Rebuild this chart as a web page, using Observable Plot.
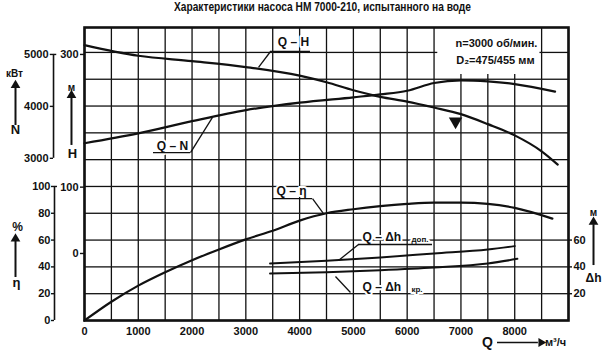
<!DOCTYPE html>
<html><head><meta charset="utf-8">
<script src="https://cdn.jsdelivr.net/npm/d3@7"></script>
<script src="https://cdn.jsdelivr.net/npm/@observablehq/plot@0.6"></script>
<style>
body{margin:0;background:#fff;}
#title{height:20px;line-height:20px;font:bold 12px "Liberation Sans",Arial,sans-serif;color:#111;white-space:nowrap;padding-left:174px;}
#title span{display:inline-block;transform-origin:0 50%;}
#chart svg{display:block;}
</style></head><body>
<div id="title"><span id="ttl"></span></div>
<div id="chart"></div>
<script>
// ---------------- data ----------------
const title = "Характеристики насоса НМ 7000-210, испытанного на воде";
const qH    = [0,1000,2000,3000,4000,4500,5000,5500,6000,6500,7000,7500,8000,8500,8800];
const hVals = [314,298,290,281,268,258,246,236,229,220,210,195,178,154,134];
const qN    = [0,1000,2000,3000,4000,5000,5500,6000,6500,7000,7500,8000,8750];
const nVals = [3290,3480,3715,3928,4071,4175,4230,4300,4450,4500,4480,4430,4285];
const qEta  = [0,500,1000,1500,2000,2500,3000,3500,4000,4500,5000,5500,6000,6500,7000,7500,8000,8700];
const etaVals = [0,14,26,36,45,53,60.5,67,74.5,80,83,85.3,87,88,88,87,84,76];
const qDhAdm = [3450,4500,5500,6500,7500,8000];
const dhAdm  = [42.5,44.5,47,50,53,55.5];
const qDhCr  = [3450,4500,5500,6500,7500,8050];
const dhCr   = [35,36,37.5,39.5,42.5,46];
const workPoint = [{q: 6900, h: 199}];
const qTicks = [0,1000,2000,3000,4000,5000,6000,7000,8000];
const nTicks = [3000,4000,5000];
const hTicks = [0,100,300];
const etaTicks = [0,20,40,60,80,100];
const dhTicks = [20,40,60];
const speedText = "n=3000 об/мин.";
const diamText = "D₂=475/455 мм";

// ---------------- helpers ----------------
// common y scale is in η (%) units; H and N are mapped onto it
const etaOfH = h => 50 + h * 148.5 / 300;
const etaOfN = n => 121 + (n - 3000) * 77.5 / 2000;
const c = v => () => v;
const id = d => d;
const str = d => String(d);
const series = (qs, vs, f) => qs.map((q, i) => ({q, v: f(vs[i])}));

const ink = "#111";
const bold = {fontWeight: "bold", fontSize: 11, fill: ink};
const halo = {stroke: "white", strokeWidth: 4, paintOrder: "stroke"};
const colN = -576, colEta = -558;
const yTop = 218.6;
// blank box behind the speed / diameter note
const box = {q1: 6560, q2: 8460, y1: 184};

// grid as short cell-edge segments
const qStops = d3.range(0, 9001, 500);
const yStops = d3.range(0, 219, 20).concat([yTop]);
const gridSeg = [];
for (const q of qStops) {
  for (let i = 0; i < yStops.length - 1; i++) {
    let y0 = yStops[i], y1 = yStops[i + 1];
    if (q > box.q1 && q < box.q2) { if (y0 >= box.y1) continue; y1 = Math.min(y1, box.y1); }
    gridSeg.push({x1: q, x2: q, y1: y0, y2: y1});
  }
}
for (const y of d3.range(0, 219, 20)) {
  for (let i = 0; i < qStops.length - 1; i++) {
    let x0 = qStops[i], x1 = qStops[i + 1];
    if (y > box.y1) {
      if (x0 >= box.q1 && x1 <= box.q2) continue;
      if (x0 < box.q1 && x1 > box.q1) x1 = box.q1;
      else if (x0 < box.q2 && x1 > box.q2) x0 = box.q2;
    }
    gridSeg.push({x1: x0, x2: x1, y1: y, y2: y});
  }
}

const arrowUp = (x, yFrom, yTo) => [
  Plot.ruleX([0], {x: c(x), y1: c(yFrom), y2: c(yTo - 2), stroke: ink, strokeWidth: 2}),
  Plot.dot([0], {x: c(x), y: c(yTo), symbol: "triangle", r: 3.6, fill: ink, stroke: "none"})
];

const marks = [
  // grid
  Plot.link(gridSeg, {x1: "x1", x2: "x2", y1: "y1", y2: "y2", stroke: ink, strokeWidth: 1.3}),
  Plot.frame({stroke: ink, strokeWidth: 2.6}),

  // curves
  Plot.line(series(qH, hVals, etaOfH), {x: "q", y: "v", curve: "monotone-x", stroke: ink, strokeWidth: 2.2}),
  Plot.line(series(qN, nVals, etaOfN), {x: "q", y: "v", curve: "monotone-x", stroke: ink, strokeWidth: 2.2}),
  Plot.line(series(qEta, etaVals, id), {x: "q", y: "v", curve: "monotone-x", stroke: ink, strokeWidth: 2.2}),
  Plot.line(series(qDhAdm, dhAdm, id), {x: "q", y: "v", curve: "monotone-x", stroke: ink, strokeWidth: 2}),
  Plot.line(series(qDhCr, dhCr, id), {x: "q", y: "v", curve: "monotone-x", stroke: ink, strokeWidth: 2}),
  Plot.dot(workPoint, {x: "q", y: d => etaOfH(d.h), symbol: "triangle", r: 5, rotate: 180, fill: ink, stroke: "none"}),

  // curve labels + leaders
  Plot.text(["Q – H"], {x: c(3886), y: c(207.4), text: id, ...bold, fontSize: 12, ...halo}),
  Plot.ruleY([200.7], {y: id, x1: c(3459), x2: c(4202), stroke: ink, strokeWidth: 1.3}),
  Plot.link([0], {x1: c(3459), y1: c(200.7), x2: c(3236), y2: c(188.8), stroke: ink, strokeWidth: 1.3}),
  Plot.text(["Q – N"], {x: c(1636), y: c(129.8), text: id, ...bold, fontSize: 12, ...halo}),
  Plot.ruleY([125.3], {y: id, x1: c(1283), x2: c(1971), stroke: ink, strokeWidth: 1.3}),
  Plot.link([0], {x1: c(1971), y1: c(125.3), x2: c(2380), y2: c(151.5), stroke: ink, strokeWidth: 1.3}),
  Plot.text(["Q – η"], {x: c(3849), y: c(96.2), text: id, ...bold, fontSize: 12, ...halo}),
  Plot.ruleY([91], {y: id, x1: c(3496), x2: c(4240), stroke: ink, strokeWidth: 1.3}),
  Plot.link([0], {x1: c(4240), y1: c(91), x2: c(4444), y2: c(79.8), stroke: ink, strokeWidth: 1.3}),
  Plot.text(["Q – Δh"], {x: c(5170), y: c(61.9), text: id, textAnchor: "start", ...bold, fontSize: 12, ...halo}),
  Plot.text(["доп."], {x: c(6080), y: c(60.6), text: id, textAnchor: "start", ...bold, fontSize: 8, ...halo}),
  Plot.ruleY([56.7], {y: id, x1: c(5095), x2: c(6471), stroke: ink, strokeWidth: 1.3}),
  Plot.link([0], {x1: c(5095), y1: c(56.7), x2: c(4723), y2: c(44.8), stroke: ink, strokeWidth: 1.3}),
  Plot.text(["Q – Δh"], {x: c(5170), y: c(24.6), text: id, textAnchor: "start", ...bold, fontSize: 12, ...halo}),
  Plot.text(["кр."], {x: c(6080), y: c(23.2), text: id, textAnchor: "start", ...bold, fontSize: 8, ...halo}),
  Plot.link([0], {x1: c(4667), y1: c(32.8), x2: c(4946), y2: c(20.9), stroke: ink, strokeWidth: 1.3}),

  // box text
  Plot.text([speedText], {x: c(7661), y: c(206.7), text: id, fontSize: 11, fontWeight: "bold", fill: ink}),
  Plot.text([diamText], {x: c(7640), y: c(194), text: id, fontSize: 11, fontWeight: "bold", fill: ink}),

  // x axis
  Plot.text(qTicks, {x: id, y: c(0), dy: 11, text: str, ...bold}),
  Plot.text(["Q"], {x: c(7494), y: c(-16.4), text: id, ...bold, fontSize: 14}),
  Plot.ruleY([-16.4], {y: id, x1: c(7680), x2: c(8440), stroke: ink, strokeWidth: 1.6}),
  Plot.dot([0], {x: c(8490), y: c(-16.4), symbol: "triangle", r: 3.4, rotate: 90, fill: ink, stroke: "none"}),
  Plot.text(["м³/ч"], {x: c(8760), y: c(-16.4), text: id, ...bold, fontSize: 11}),

  // N axis
  Plot.ruleX([0], {x: c(colN), y1: c(etaOfN(3000)), y2: c(etaOfN(5000)), stroke: ink, strokeWidth: 1.6}),
  Plot.ruleY(nTicks, {y: etaOfN, x1: c(colN - 60), x2: c(colN), stroke: ink, strokeWidth: 1.4}),
  Plot.ruleY([5000], {y: etaOfN, x1: c(colN), x2: c(colN + 60), stroke: ink, strokeWidth: 1.4}),
  Plot.text(nTicks, {x: c(colN), y: etaOfN, dx: -5, textAnchor: "end", text: str, ...bold}),
  Plot.text(["кВт"], {x: c(-1302), y: c(184.3), text: id, ...bold, fontSize: 10}),
  ...arrowUp(-1283, 145.5, 175.5),
  Plot.text(["N"], {x: c(-1283), y: c(142), text: id, ...bold, fontSize: 13}),

  // H axis (on left frame)
  Plot.ruleY(hTicks, {y: etaOfH, x1: c(-75), x2: c(0), stroke: ink, strokeWidth: 1.4}),
  Plot.text(hTicks, {x: c(0), y: etaOfH, dx: -6, textAnchor: "end", text: str, ...bold}),
  Plot.text(["м"], {x: c(-242), y: c(173.8), text: id, ...bold, fontSize: 10}),
  ...arrowUp(-242, 130.6, 168),
  Plot.text(["H"], {x: c(-223), y: c(124.6), text: id, ...bold, fontSize: 13}),

  // η axis
  Plot.ruleX([0], {x: c(colEta), y1: c(0), y2: c(100), stroke: ink, strokeWidth: 1.6}),
  Plot.ruleY(etaTicks, {y: id, x1: c(colEta - 56), x2: c(colEta), stroke: ink, strokeWidth: 1.4}),
  Plot.ruleY([100], {y: id, x1: c(colEta), x2: c(colEta + 56), stroke: ink, strokeWidth: 1.4}),
  Plot.text(etaTicks, {x: c(colEta), y: id, dx: -4, textAnchor: "end", text: str, ...bold}),
  Plot.text(["%"], {x: c(-1246), y: c(69.4), text: id, ...bold, fontSize: 12}),
  ...arrowUp(-1283, 32.1, 61),
  Plot.text(["η"], {x: c(-1264), y: c(28.4), text: id, ...bold, fontSize: 13}),

  // Δh axis (on right frame)
  Plot.ruleY(dhTicks, {y: id, x1: c(9000), x2: c(9075), stroke: ink, strokeWidth: 1.4}),
  Plot.text(dhTicks, {x: c(9000), y: id, dx: 5, textAnchor: "start", text: str, ...bold}),
  Plot.text(["м"], {x: c(9465), y: c(80.6), text: id, ...bold, fontSize: 10}),
  ...arrowUp(9465, 41, 73.5),
  Plot.text(["Δh"], {x: c(9465), y: c(31.3), text: id, ...bold, fontSize: 12})
];

const svg = Plot.plot({
  width: 603,
  height: 333,
  marginLeft: 84,
  marginRight: 35,
  marginTop: 7,
  marginBottom: 33,
  x: {domain: [0, 9000], axis: null},
  y: {domain: [0, yTop], axis: null},
  style: {fontFamily: "'Liberation Sans', Arial, sans-serif", background: "white", color: ink, overflow: "visible"},
  marks
});
document.getElementById("chart").appendChild(svg);

// title above the chart, condensed to the reference width
const span = document.getElementById("ttl");
span.textContent = title;
const w = span.getBoundingClientRect().width;
if (w > 0) span.style.transform = "scaleX(" + (297 / w) + ")";
</script></body></html>
